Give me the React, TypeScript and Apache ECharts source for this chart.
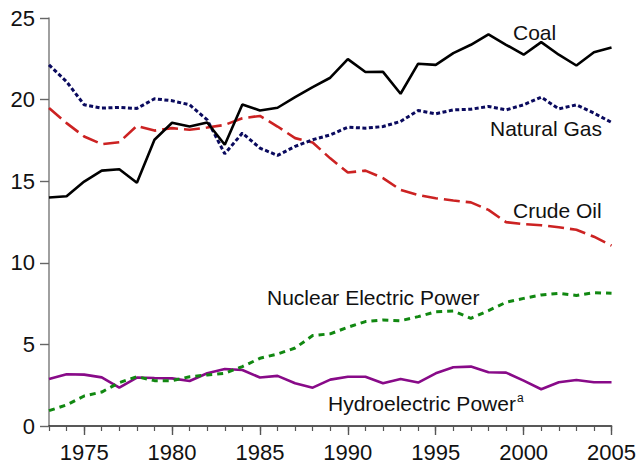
import React, { useEffect, useRef } from "react";
import * as echarts from "echarts";

const years: string[] = [];
for (let y = 1973; y <= 2005; y++) years.push(String(y));

const coal = [14.0, 14.08, 14.98, 15.65, 15.73, 14.9, 17.54, 18.58, 18.35, 18.6, 17.23, 19.7, 19.33, 19.5, 20.15, 20.77, 21.34, 22.48, 21.69, 21.7, 20.36, 22.2, 22.13, 22.85, 23.36, 24.0, 23.36, 22.75, 23.52, 22.75, 22.09, 22.9, 23.19];
const naturalGas = [22.13, 21.1, 19.68, 19.48, 19.52, 19.46, 20.05, 19.93, 19.68, 18.76, 16.68, 17.95, 17.03, 16.58, 17.13, 17.54, 17.84, 18.31, 18.25, 18.35, 18.66, 19.33, 19.13, 19.37, 19.41, 19.58, 19.37, 19.68, 20.15, 19.43, 19.68, 19.17, 18.6];
const crudeOil = [19.48, 18.56, 17.74, 17.27, 17.39, 18.39, 18.1, 18.25, 18.15, 18.29, 18.45, 18.86, 19.0, 18.35, 17.64, 17.37, 16.4, 15.53, 15.65, 15.19, 14.47, 14.16, 13.96, 13.82, 13.7, 13.24, 12.49, 12.37, 12.3, 12.18, 12.02, 11.6, 11.05];
const nuclear = [0.94, 1.29, 1.84, 2.08, 2.66, 3.02, 2.78, 2.78, 3.02, 3.13, 3.23, 3.64, 4.15, 4.41, 4.78, 5.54, 5.65, 6.05, 6.4, 6.5, 6.45, 6.7, 7.0, 7.05, 6.6, 7.07, 7.58, 7.82, 8.03, 8.13, 8.0, 8.17, 8.13];
const hydro = [2.88, 3.17, 3.15, 2.98, 2.35, 2.97, 2.94, 2.92, 2.76, 3.23, 3.49, 3.43, 2.97, 3.07, 2.62, 2.35, 2.84, 3.02, 3.02, 2.62, 2.88, 2.66, 3.23, 3.6, 3.64, 3.29, 3.27, 2.78, 2.25, 2.68, 2.82, 2.68, 2.68];

const FONT = "'Liberation Sans', Arial, sans-serif";

export default function App() {
  const ref = useRef<HTMLDivElement>(null);
  useEffect(() => {
    if (!ref.current) return;
    const chart = echarts.init(ref.current, null, { renderer: "svg" });
    const major = (_i: number, v: string) => Number(v) % 5 === 0;
    const labelStyle = { fontFamily: FONT, fontSize: 21, fill: "#111" };
    chart.setOption({
      animation: false,
      backgroundColor: "#fff",
      grid: { left: 49, right: 27, top: 18, bottom: 42 },
      xAxis: [
        {
          type: "category",
          data: years,
          boundaryGap: false,
          position: "bottom",
          axisLine: { lineStyle: { color: "#222", width: 1.6 } },
          axisTick: { interval: major, length: 9, lineStyle: { color: "#555", width: 1.4 } },
          axisLabel: { interval: major, margin: 15, fontSize: 22, color: "#111", fontFamily: FONT },
          splitLine: { show: false },
        },
        {
          type: "category",
          data: years,
          boundaryGap: false,
          position: "bottom",
          axisLine: { show: false },
          axisTick: { interval: 0, length: 5, lineStyle: { color: "#555", width: 1.2 } },
          axisLabel: { show: false },
          splitLine: { show: false },
        },
      ],
      yAxis: {
        type: "value",
        min: 0,
        max: 25,
        interval: 5,
        axisLine: { show: true, lineStyle: { color: "#888", width: 1.6 } },
        axisTick: { show: true, length: 9, lineStyle: { color: "#666", width: 1.4 } },
        axisLabel: { margin: 14, fontSize: 22, color: "#111", fontFamily: FONT },
        splitLine: { show: false },
      },
      series: [
        { name: "Hydroelectric Power", type: "line", data: hydro, showSymbol: false, lineStyle: { color: "#880a88", width: 2.6 } },
        { name: "Nuclear Electric Power", type: "line", data: nuclear, showSymbol: false, lineStyle: { color: "#118811", width: 3, type: [6, 5] } },
        { name: "Crude Oil", type: "line", data: crudeOil, showSymbol: false, lineStyle: { color: "#cc2222", width: 2.6, type: [16, 6] } },
        { name: "Natural Gas", type: "line", data: naturalGas, showSymbol: false, lineStyle: { color: "#0a0a5e", width: 3, type: [4, 2.5] } },
        { name: "Coal", type: "line", data: coal, showSymbol: false, lineStyle: { color: "#000", width: 2.6 } },
      ],
      graphic: [
        { type: "text", left: 513, top: 22, style: { ...labelStyle, text: "Coal" } },
        { type: "text", left: 490, top: 118, style: { ...labelStyle, text: "Natural Gas" } },
        { type: "text", left: 513, top: 200, style: { ...labelStyle, text: "Crude Oil" } },
        { type: "text", left: 267, top: 287, style: { ...labelStyle, text: "Nuclear Electric Power" } },
        { type: "text", left: 328, top: 393, style: { ...labelStyle, text: "Hydroelectric Power" } },
        { type: "text", left: 517, top: 392, style: { fontFamily: FONT, fontSize: 12, fill: "#111", text: "a" } },
      ],
    });
    return () => chart.dispose();
  }, []);
  return <div ref={ref} style={{ position: "fixed", left: 0, top: 0, width: 639, height: 468 }} />;
}
